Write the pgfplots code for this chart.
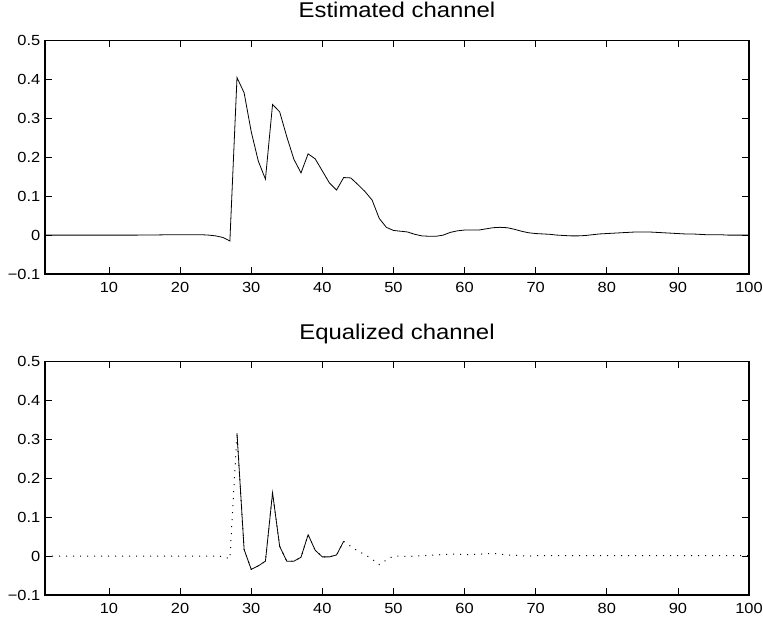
\documentclass[border=0pt]{standalone}
\usepackage{fontspec}
\setmainfont{Liberation Sans}[FakeStretch=1.12]
\usepackage{pgfplots}
\pgfplotsset{compat=1.18}
\pgfplotsset{
  myaxis/.style={
    width=528pt, height=175pt, scale only axis,
    xmin=1, xmax=100, ymin=-0.1, ymax=0.5,
    xtick={10,20,30,40,50,60,70,80,90,100},
    xticklabels={10,20,30,40,50,60,70,80,90,100},
    ytick={-0.1,0,0.1,0.2,0.3,0.4,0.5},
    yticklabels={−0.1,0,0.1,0.2,0.3,0.4,0.5},
    tick pos=both, tick align=inside,
    major tick length=5pt,
    axis line style={line width=0.9pt},
    major tick style={line width=0.5pt, black},
    tick label style={font=\fontsize{11}{13}\selectfont},
    xticklabel style={yshift=-2.5pt},
    title style={font=\fontsize{16}{19}\selectfont, at={(0.5,1)}, anchor=base, yshift=11pt},
  }
}
\begin{document}
\begin{tikzpicture}
\useasboundingbox (-33.75pt,30.5pt) rectangle (538.5pt,-434.5pt);
\begin{axis}[myaxis, at={(0,0)}, anchor=north west, title={Estimated channel}]
\addplot[black, line width=0.6pt] coordinates {
(1,0)(2,0)(3,0)(4,0)(5,0)(6,0)(7,0)(8,0)(9,0)(10,0)
(11,0)(12,0)(13,0)(14,0)(15,0.0005)(16,0.0005)(17,0.0005)(18,0.0008)(19,0.001)(20,0.001)
(21,0.001)(22,0.001)(23,0.001)(24,0)(25,-0.002)(26,-0.006)(27,-0.015)
(28,0.405)(29,0.366)(30,0.266)(31,0.190)(32,0.144)(33,0.336)(34,0.317)(35,0.253)
(36,0.195)(37,0.160)(38,0.209)(39,0.196)(40,0.165)(41,0.134)(42,0.116)(43,0.148)
(44,0.147)(45,0.130)(46,0.112)(47,0.090)(48,0.043)(49,0.020)(50,0.012)(51,0.010)
(52,0.008)(53,0.002)(54,-0.002)(55,-0.003)(56,-0.003)(57,0.000)(58,0.007)(59,0.011)
(60,0.013)(61,0.013)(62,0.013)(63,0.016)(64,0.019)(65,0.020)(66,0.019)(67,0.015)
(68,0.010)(69,0.006)(70,0.004)(71,0.003)(72,0.002)(73,0.000)(74,-0.001)(75,-0.002)
(76,-0.002)(77,-0.001)(78,0.001)(79,0.003)(80,0.004)(81,0.005)(82,0.006)(83,0.007)
(84,0.008)(85,0.008)(86,0.008)(87,0.007)(88,0.006)(89,0.005)(90,0.004)(91,0.003)
(92,0.003)(93,0.002)(94,0.001)(95,0.001)(96,0.001)(97,0.000)(98,0)(99,0)(100,0)
};
\end{axis}
\begin{axis}[myaxis, at={(0,-240.75pt)}, anchor=north west, title={Equalized channel}]
\addplot[black, line width=0.75pt, dash pattern=on 0.75pt off 4.5pt] coordinates {
(1,0)(2,0)(3,0)(4,0)(5,0)(6,0)(7,0)(8,0)(9,0)(10,0)
(11,0)(12,0)(13,0)(14,0)(15,0)(16,0)(17,0)(18,0)(19,0)(20,0)
(21,0)(22,0)(23,0)(24,0)(25,0)(26,-0.001)(27,-0.007)
(28,0.316)(29,0.017)(30,-0.034)(31,-0.025)(32,-0.013)(33,0.163)(34,0.025)(35,-0.013)
(36,-0.013)(37,-0.003)(38,0.055)(39,0.015)(40,-0.002)(41,-0.002)(42,0.003)(43,0.038)
(44,0.025)(45,0.013)(46,0.004)(47,-0.008)(48,-0.022)(49,-0.010)(50,0.000)(51,0.000)
(52,-0.001)(53,0.000)(54,0.001)(55,0.002)(56,0.003)(57,0.004)(58,0.005)(59,0.005)
(60,0.004)(61,0.004)(62,0.005)(63,0.006)(64,0.007)(65,0.005)(66,0.003)(67,0.002)
(68,0.001)(69,0)(70,0.001)(71,0.001)(72,0.001)(73,0.001)(74,0.001)(75,0.001)
(76,0.001)(77,0.001)(78,0.001)(79,0.001)(80,0.001)(81,0.001)(82,0.001)(83,0.001)
(84,0.001)(85,0.001)(86,0.001)(87,0.001)(88,0.001)(89,0.001)(90,0.001)(91,0.001)
(92,0.001)(93,0.001)(94,0.001)(95,0.001)(96,0.001)(97,0.001)(98,0.001)(99,0.001)(100,0.001)
};
\addplot[black, line width=0.6pt] coordinates {
(28,0.316)(29,0.017)(30,-0.034)(31,-0.025)(32,-0.013)(33,0.163)(34,0.025)(35,-0.013)
(36,-0.013)(37,-0.003)(38,0.055)(39,0.015)(40,-0.002)(41,-0.002)(42,0.003)(43,0.038)
};
\end{axis}
\end{tikzpicture}
\end{document}
